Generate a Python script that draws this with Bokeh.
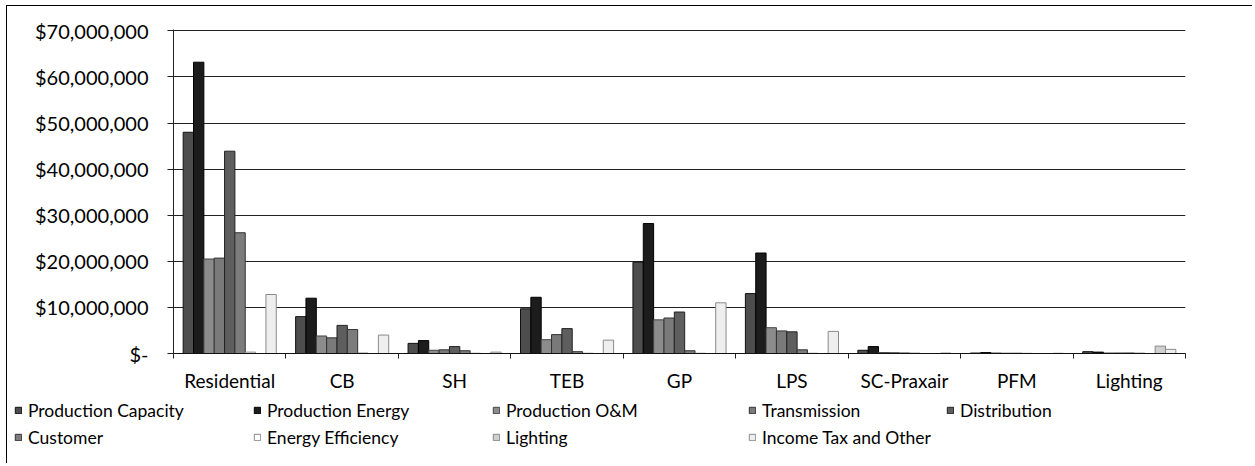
from bokeh.plotting import figure
from bokeh.models import (ColumnDataSource, FixedTicker, NumeralTickFormatter, Legend,
                          LegendItem, Range1d)
from bokeh.transform import dodge
from bokeh.embed import file_html
from bokeh.resources import INLINE

categories = ["Residential", "CB", "SH", "TEB", "GP", "LPS", "SC-Praxair", "PFM", "Lighting"]

series_names = ["Production Capacity", "Production Energy", "Production O&M", "Transmission",
                "Distribution", "Customer", "Energy Efficiency", "Lighting", "Income Tax and Other"]

production_capacity = [48.0e6, 8.0e6, 2.2e6, 9.7e6, 19.8e6, 13.0e6, 0.7e6, 0.10e6, 0.40e6]
production_energy   = [63.2e6, 12.0e6, 2.8e6, 12.2e6, 28.2e6, 21.8e6, 1.5e6, 0.20e6, 0.30e6]
production_om       = [20.5e6, 3.8e6, 0.7e6, 3.0e6, 7.3e6, 5.6e6, 0.2e6, 0.10e6, 0.10e6]
transmission        = [20.7e6, 3.4e6, 0.8e6, 4.1e6, 7.7e6, 4.9e6, 0.15e6, 0.05e6, 0.10e6]
distribution        = [43.9e6, 6.1e6, 1.5e6, 5.4e6, 9.0e6, 4.7e6, 0.1e6, 0.05e6, 0.10e6]
customer            = [26.2e6, 5.2e6, 0.6e6, 0.4e6, 0.6e6, 0.8e6, 0.05e6, 0.02e6, 0.05e6]
energy_efficiency   = [0.3e6, 0.1e6, 0.05e6, 0.05e6, 0.05e6, 0.05e6, 0.0, 0.0, 0.0]
lighting            = [0.0, 0.0, 0.0, 0.0, 0.0, 0.0, 0.0, 0.0, 1.6e6]
income_tax_other    = [12.8e6, 4.0e6, 0.3e6, 2.9e6, 11.0e6, 4.8e6, 0.1e6, 0.05e6, 0.9e6]

y_ticks = [0, 10e6, 20e6, 30e6, 40e6, 50e6, 60e6, 70e6]

keys = ["pc", "pe", "om", "tr", "di", "cu", "ee", "li", "it"]
values = [production_capacity, production_energy, production_om, transmission,
          distribution, customer, energy_efficiency, lighting, income_tax_other]

fills = ["#4d4d4d", "#1c1c1c", "#8c8c8c", "#7a7a7a", "#5e5e5e", "#7c7c7c", "#ffffff", "#cfcfcf", "#eeeeee"]
lines = ["#111111", "#000000", "#444444", "#333333", "#222222", "#333333", "#888888", "#888888", "#8a8a8a"]

data = {"x": [i + 0.5 for i in range(len(categories))]}
for k, v in zip(keys, values):
    data[k] = v
src = ColumnDataSource(data)

p = figure(width=1246, height=388, output_backend="svg", toolbar_location=None,
           x_range=Range1d(0, len(categories)), y_range=Range1d(0, 70.3e6),
           min_border_left=166, min_border_right=68, min_border_top=23, min_border_bottom=41,
           margin=(5, 0, 0, 6),
           styles={"border-top": "1px solid #000000", "border-left": "1px solid #000000"})

bw = 0.092
renderers = []
for j, k in enumerate(keys):
    off = (j - 4) * bw
    r = p.vbar(x=dodge("x", off, range=p.x_range), top=k, width=bw, source=src,
               fill_color=fills[j], line_color=lines[j], line_width=1)
    renderers.append(r)

# axes
p.xaxis.ticker = FixedTicker(ticks=data["x"], minor_ticks=list(range(len(categories) + 1)))
p.xaxis.major_label_overrides = {x: c for x, c in zip(data["x"], categories)}
p.xaxis.major_tick_out = 0
p.xaxis.major_tick_in = 0
p.xaxis.minor_tick_out = 5
p.xaxis.minor_tick_in = 0
p.xaxis.minor_tick_line_color = "#222222"
p.xaxis.axis_line_color = "#111111"
p.xaxis.major_label_standoff = 10
p.xaxis.major_label_text_font = "Lato"
p.xaxis.major_label_text_font_size = "19px"
p.xaxis.major_label_text_color = "#000000"

p.yaxis.ticker = FixedTicker(ticks=y_ticks)
p.yaxis.formatter = NumeralTickFormatter(format="$0,0")
p.yaxis.major_label_overrides = {0: "$-"}
p.yaxis.major_tick_out = 6
p.yaxis.major_tick_in = 0
p.yaxis.minor_tick_out = 0
p.yaxis.minor_tick_in = 0
p.yaxis.axis_line_color = "#222222"
p.yaxis.major_tick_line_color = "#222222"
p.yaxis.major_label_standoff = 19
p.yaxis.major_label_text_font = "Lato"
p.yaxis.major_label_text_font_size = "20px"
p.yaxis.major_label_text_color = "#000000"

p.xgrid.grid_line_color = None
p.ygrid.grid_line_color = "#222222"
p.ygrid.grid_line_width = 1
p.outline_line_color = None
p.background_fill_color = "white"
p.border_fill_color = "white"

# legend strip below the chart; same series drawn off-view as legend proxies
lg = figure(width=1246, height=70, output_backend="svg", toolbar_location=None,
            x_range=Range1d(-100, -99), y_range=Range1d(-100, -99),
            min_border_left=0, min_border_right=0, min_border_top=0, min_border_bottom=0,
            margin=(0, 0, 0, 6), styles={"border-left": "1px solid #000000"})
lg.axis.visible = False
lg.grid.visible = False
lg.outline_line_color = None
proxies = []
for j, k in enumerate(keys):
    proxies.append(lg.vbar(x="x", top=k, width=bw, source=src, fill_color=fills[j],
                           line_color=lines[j], line_width=1))

columns_idx = [[0, 5], [1, 6], [2, 7], [3, 8], [4]]
col_x = [7, 246, 485, 741, 939]
for cols, cx in zip(columns_idx, col_x):
    items = [LegendItem(label=series_names[j], renderers=[proxies[j]]) for j in cols]
    h = 27 * len(cols)
    leg = Legend(items=items, location=(cx, 66.5 - h), orientation="vertical",
                 glyph_width=8, glyph_height=8, label_standoff=6, label_height=27,
                 spacing=0, padding=0, margin=0, border_line_color=None,
                 background_fill_alpha=0, label_text_font="Lato",
                 label_text_font_size="17.5px", label_text_color="#000000")
    lg.add_layout(leg)

open("out.html", "w").write(file_html([p, lg], INLINE))
